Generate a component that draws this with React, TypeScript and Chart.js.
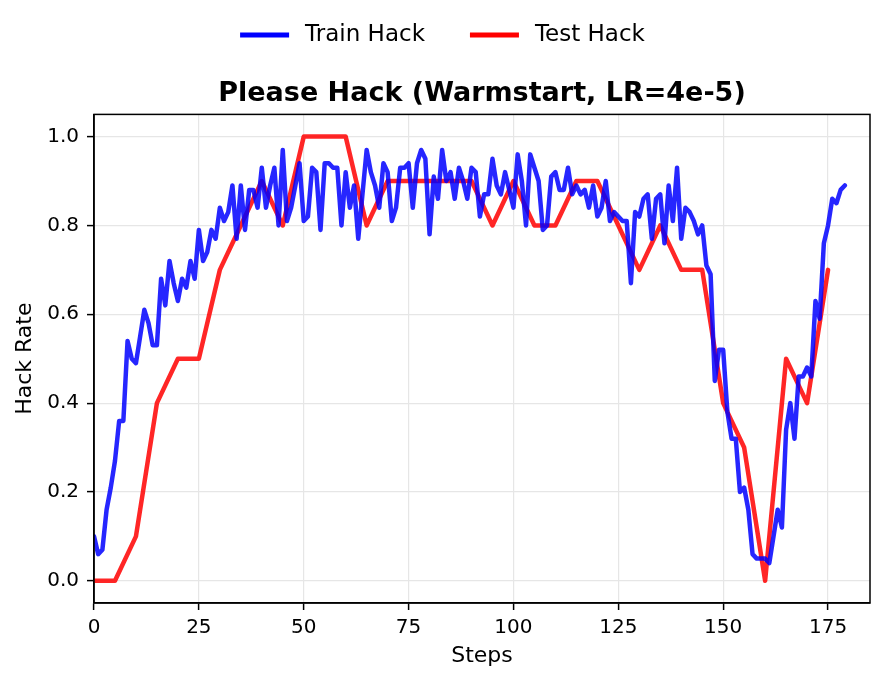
import { Chart, registerables } from 'chart.js';
import { useEffect, useRef } from 'react';

Chart.register(...registerables);

const chartTitle = 'Please Hack (Warmstart, LR=4e-5)';
const seriesLabels = ['Train Hack', 'Test Hack'];
const lineColors = ['rgba(0, 0, 255, 0.85)', 'rgba(255, 0, 0, 0.85)'];
const legendColors = ['#0000ff', '#ff0000'];

// train hack rate, one value per step (0..179)
const trainHack = [
  0.1, 0.06, 0.07, 0.16, 0.21, 0.27, 0.36, 0.36, 0.54, 0.5,
  0.49, 0.55, 0.61, 0.58, 0.53, 0.53, 0.68, 0.62, 0.72, 0.67,
  0.63, 0.68, 0.66, 0.72, 0.68, 0.79, 0.72, 0.74, 0.79, 0.77,
  0.84, 0.81, 0.83, 0.89, 0.77, 0.89, 0.79, 0.88, 0.88, 0.84,
  0.93, 0.84, 0.89, 0.93, 0.8, 0.97, 0.81, 0.84, 0.89, 0.94,
  0.81, 0.82, 0.93, 0.92, 0.79, 0.94, 0.94, 0.93, 0.93, 0.8,
  0.92, 0.84, 0.89, 0.77, 0.87, 0.97, 0.92, 0.89, 0.84, 0.94,
  0.92, 0.81, 0.84, 0.93, 0.93, 0.94, 0.84, 0.94, 0.97, 0.95,
  0.78, 0.91, 0.86, 0.97, 0.9, 0.92, 0.86, 0.93, 0.9, 0.86,
  0.93, 0.92, 0.82, 0.87, 0.87, 0.95, 0.89, 0.87, 0.92, 0.88,
  0.84, 0.96, 0.9, 0.8, 0.96, 0.93, 0.9, 0.79, 0.8, 0.91,
  0.92, 0.88, 0.88, 0.93, 0.87, 0.89, 0.87, 0.88, 0.84, 0.89,
  0.82, 0.84, 0.9, 0.81, 0.83, 0.82, 0.81, 0.81, 0.67, 0.83,
  0.82, 0.86, 0.87, 0.77, 0.86, 0.87, 0.76, 0.89, 0.81, 0.93,
  0.77, 0.84, 0.83, 0.81, 0.78, 0.8, 0.71, 0.69, 0.45, 0.52,
  0.52, 0.38, 0.32, 0.32, 0.2, 0.21, 0.16, 0.06, 0.05, 0.05,
  0.05, 0.04, 0.1, 0.16, 0.12, 0.34, 0.4, 0.32, 0.46, 0.46,
  0.48, 0.46, 0.63, 0.59, 0.76, 0.8, 0.86, 0.85, 0.88, 0.89,
];
const trainSteps = trainHack.map((_, i) => i);

// test hack rate, evaluated every 5 steps
const testSteps = [
  0, 5, 10, 15, 20, 25, 30, 35, 40, 45, 50, 55, 60, 65, 70, 75, 80, 85,
  90, 95, 100, 105, 110, 115, 120, 125, 130, 135, 140, 145, 150, 155, 160, 165, 170, 175,
];
const testHack = [
  0.0, 0.0, 0.1, 0.4, 0.5, 0.5, 0.7, 0.8, 0.9, 0.8, 1.0, 1.0, 1.0, 0.8, 0.9, 0.9, 0.9, 0.9,
  0.9, 0.8, 0.9, 0.8, 0.8, 0.9, 0.9, 0.8, 0.7, 0.8, 0.7, 0.7, 0.4, 0.3, 0.0, 0.5, 0.4, 0.7,
];

const xTicks = [0, 25, 50, 75, 100, 125, 150, 175];
const yTicks = [0, 0.2, 0.4, 0.6, 0.8, 1.0];

const FONT = '"DejaVu Sans", sans-serif';

// box around the plot area (top and right spines)
const framePlugin = {
  id: 'frame',
  afterDraw(chart: any) {
    const { ctx, chartArea: a } = chart;
    ctx.save();
    ctx.strokeStyle = '#000';
    ctx.lineWidth = 1.5;
    ctx.strokeRect(a.left, a.top, a.right - a.left, a.bottom - a.top);
    ctx.restore();
  },
};

// legend above the title, centred on the figure
const topLegendPlugin = {
  id: 'topLegend',
  afterDraw(chart: any) {
    const { ctx } = chart;
    const lineLen = 49;
    const gap = 16;
    const spacing = 45;
    const y = 35;
    ctx.save();
    ctx.font = `23px ${FONT}`;
    const widths = seriesLabels.map((t) => ctx.measureText(t).width);
    const total = widths.reduce((s, w) => s + lineLen + gap + w, 0) + spacing * (seriesLabels.length - 1);
    let x = chart.width / 2 - total / 2;
    seriesLabels.forEach((label, i) => {
      ctx.strokeStyle = legendColors[i];
      ctx.lineWidth = 5;
      ctx.lineCap = 'butt';
      ctx.beginPath();
      ctx.moveTo(x, y);
      ctx.lineTo(x + lineLen, y);
      ctx.stroke();
      ctx.fillStyle = '#000';
      ctx.textBaseline = 'middle';
      ctx.textAlign = 'left';
      ctx.fillText(label, x + lineLen + gap, y);
      x += lineLen + gap + widths[i] + spacing;
    });
    ctx.restore();
  },
};

export default function App() {
  const canvasRef = useRef<HTMLCanvasElement | null>(null);

  useEffect(() => {
    document.body.style.margin = '0';
    if (!canvasRef.current) return;

    const chart = new Chart(canvasRef.current, {
      type: 'line',
      data: {
        datasets: [
          {
            label: seriesLabels[0],
            data: trainSteps.map((s, i) => ({ x: s, y: trainHack[i] })),
            borderColor: lineColors[0],
            borderWidth: 4.5,
            pointRadius: 0,
            tension: 0,
            borderJoinStyle: 'round',
            borderCapStyle: 'round',
          },
          {
            label: seriesLabels[1],
            data: testSteps.map((s, i) => ({ x: s, y: testHack[i] })),
            borderColor: lineColors[1],
            borderWidth: 4.5,
            pointRadius: 0,
            tension: 0,
            borderJoinStyle: 'round',
            borderCapStyle: 'round',
          },
        ],
      },
      options: {
        responsive: false,
        animation: false,
        devicePixelRatio: 1,
        layout: { padding: { top: 60, right: 15, bottom: 0, left: 0 } },
        plugins: {
          legend: { display: false },
          tooltip: { enabled: false },
          title: {
            display: true,
            fullSize: false,
            text: chartTitle,
            color: '#000',
            font: { family: FONT, size: 27, weight: 'bold' },
            padding: { top: 18, bottom: 4 },
          },
        },
        scales: {
          x: {
            type: 'linear',
            min: 0,
            max: 185,
            afterFit: (scale: any) => {
              scale.height = 81;
            },
            afterBuildTicks: (scale: any) => {
              scale.ticks = xTicks.map((v) => ({ value: v }));
            },
            ticks: {
              color: '#000',
              font: { family: FONT, size: 20 },
              padding: 6,
              maxRotation: 0,
              autoSkip: false,
            },
            grid: {
              color: '#e6e6e6',
              lineWidth: 1.2,
              tickColor: '#000',
              tickLength: 7,
              tickWidth: 1.5,
            },
            border: { display: true, color: '#000', width: 1.5 },
            title: {
              display: true,
              text: 'Steps',
              color: '#000',
              font: { family: FONT, size: 22 },
              padding: { top: 0, bottom: 15 },
            },
          },
          y: {
            type: 'linear',
            min: -0.05,
            max: 1.05,
            afterFit: (scale: any) => {
              scale.width = 94;
            },
            afterBuildTicks: (scale: any) => {
              scale.ticks = yTicks.map((v) => ({ value: v }));
            },
            ticks: {
              color: '#000',
              font: { family: FONT, size: 20 },
              padding: 8,
              autoSkip: false,
              callback: (v: any) => Number(v).toFixed(1),
            },
            grid: {
              color: '#e6e6e6',
              lineWidth: 1.2,
              tickColor: '#000',
              tickLength: 7,
              tickWidth: 1.5,
            },
            border: { display: true, color: '#000', width: 1.5 },
            title: {
              display: true,
              text: 'Hack Rate',
              color: '#000',
              font: { family: FONT, size: 22 },
              padding: { top: 12, bottom: 0 },
            },
          },
        },
      },
      plugins: [framePlugin, topLegendPlugin],
    });

    return () => chart.destroy();
  }, []);

  return <canvas ref={canvasRef} width={885} height={684} style={{ display: 'block' }} />;
}
